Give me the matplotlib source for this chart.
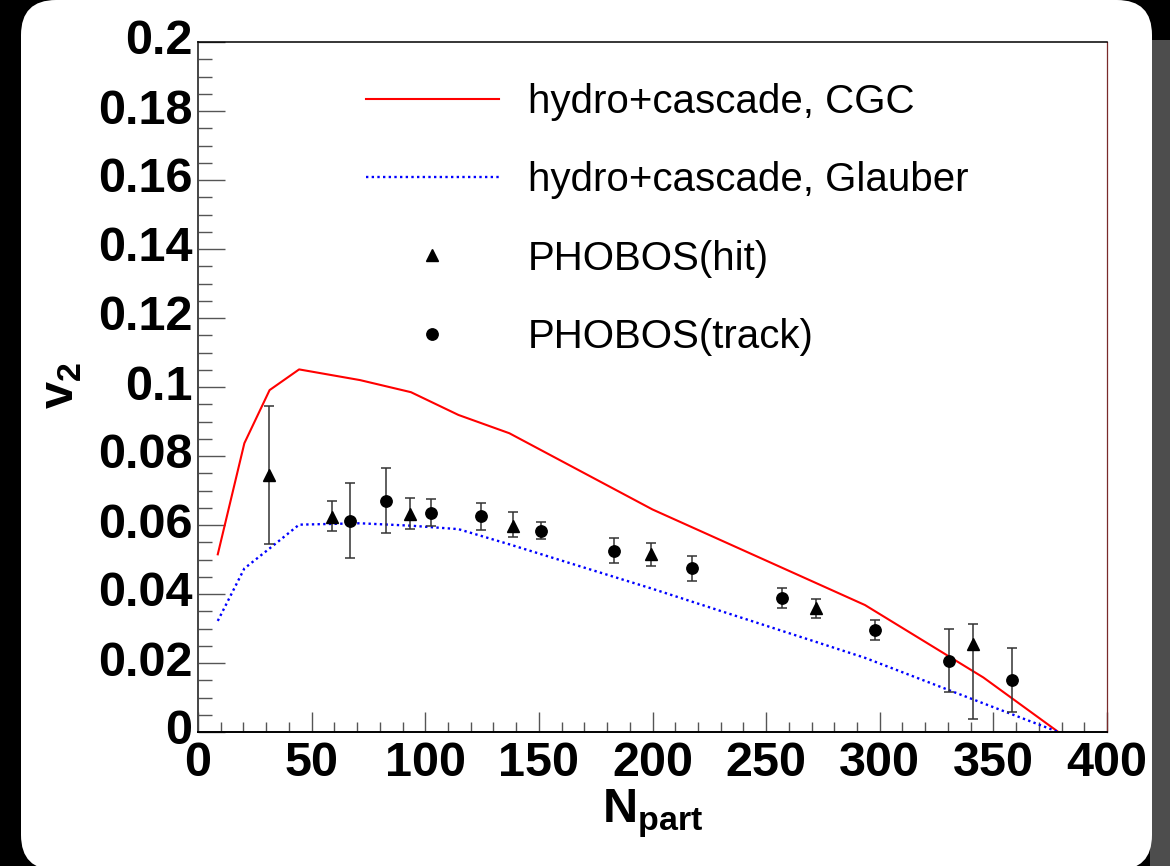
import numpy as np
import matplotlib
matplotlib.use("Agg")
import matplotlib.pyplot as plt
from matplotlib.patches import FancyBboxPatch, Rectangle
from matplotlib.ticker import MultipleLocator
from matplotlib.transforms import ScaledTranslation

plt.rcParams['font.family'] = ['Liberation Sans', 'DejaVu Sans']
plt.rcParams['mathtext.fontset'] = 'custom'
plt.rcParams['mathtext.rm'] = 'Liberation Sans'
plt.rcParams['mathtext.bf'] = 'Liberation Sans:bold'

# theory curves (hydro+cascade)
npart_theory = [8.7, 20.4, 31.5, 44.5, 71.3, 93.7, 114.6, 137.0, 200.0, 293.5, 345.6, 378.6]
v2_cgc = [0.0515, 0.0837, 0.0991, 0.1051, 0.1020, 0.0985, 0.0919, 0.0866, 0.0645, 0.0368, 0.0158, 0.0]
v2_glauber = [0.0322, 0.0474, 0.0532, 0.0601, 0.0605, 0.0598, 0.0588, 0.0544, 0.0415, 0.0215, 0.0083, 0.0]

# PHOBOS hit
npart_hit = [31.1, 59.1, 93.1, 138.8, 199.5, 271.9, 341.2]
v2_hit = [0.0745, 0.0624, 0.0632, 0.0598, 0.0515, 0.0358, 0.0255]
err_hit_lo = [0.0200, 0.0042, 0.0045, 0.0034, 0.0034, 0.0027, 0.0217]
err_hit_hi = [0.0200, 0.0046, 0.0047, 0.0040, 0.0034, 0.0028, 0.0058]

# PHOBOS track
npart_track = [66.7, 82.6, 102.7, 124.5, 151.1, 183.1, 217.4, 257.1, 297.9, 330.6, 358.3]
v2_track = [0.0613, 0.0671, 0.0636, 0.0625, 0.0584, 0.0526, 0.0474, 0.0389, 0.0296, 0.0207, 0.0151]
err_track = [0.0108, 0.0093, 0.0038, 0.0040, 0.0024, 0.0036, 0.0037, 0.0029, 0.0029, 0.0091, 0.0093]

ytick_labels = ['0', '0.02', '0.04', '0.06', '0.08', '0.1', '0.12', '0.14', '0.16', '0.18', '0.2']

fig = plt.figure(figsize=(11.7, 8.66), dpi=100)
fig.patch.set_facecolor('black')
# gray strip on the right + rounded white panel (behind the axes)
fig.patches.append(Rectangle((1150/1170, 0), 20/1170, 1 - 40/866, transform=fig.transFigure,
                             fc='#4d4d4d', ec='none', zorder=-10))
fig.patches.append(FancyBboxPatch((0.21, -0.04), 11.31, 8.70,
                                  boxstyle='round,pad=0,rounding_size=0.35',
                                  transform=fig.dpi_scale_trans, fc='white', ec='none', zorder=-9))

ax = fig.add_axes([198/1170, 1 - 732/866, 909/1170, 690/866])
ax.set_facecolor('white')

ax.plot(npart_theory, v2_cgc, color='#ff0000', lw=1.5, label='hydro+cascade, CGC')
ax.plot(npart_theory, v2_glauber, color='#0000ff', lw=1.7, ls=(0, (1.0, 1.4)),
        label='hydro+cascade, Glauber')

ax.errorbar(npart_hit, v2_hit, yerr=[err_hit_lo, err_hit_hi], fmt='none',
            ecolor='#333333', elinewidth=1.1, capsize=3.6, capthick=1.1)
ax.errorbar(npart_track, v2_track, yerr=err_track, fmt='none',
            ecolor='#333333', elinewidth=1.1, capsize=3.6, capthick=1.1)
ax.plot(npart_hit, v2_hit, ls='none', marker='^', ms=8, color='black', label='PHOBOS(hit)')
ax.plot(npart_track, v2_track, ls='none', marker='o', ms=8.2, color='black', label='PHOBOS(track)')

ax.set_xlim(0, 400)
ax.set_ylim(0, 0.2)
ax.xaxis.set_major_locator(MultipleLocator(50))
ax.xaxis.set_minor_locator(MultipleLocator(10))
ax.yaxis.set_minor_locator(MultipleLocator(0.005))
ax.set_yticks(np.arange(0, 0.201, 0.02))
ax.set_yticklabels(ytick_labels)

ax.tick_params(axis='both', which='both', direction='in', color='#555555', width=1,
               top=False, right=False)
ax.tick_params(axis='y', which='major', length=19.4, pad=4)
ax.tick_params(axis='y', which='minor', length=10)
ax.tick_params(axis='x', which='major', length=14.4, pad=6.5)
ax.tick_params(axis='x', which='minor', length=7.2)
for lab in ax.get_xticklabels() + ax.get_yticklabels():
    lab.set_fontsize(35)
    lab.set_fontweight('bold')
# ROOT puts the y labels a touch above the tick
up = ScaledTranslation(0, 5 / 100, fig.dpi_scale_trans)
for lab in ax.get_yticklabels():
    lab.set_transform(lab.get_transform() + up)

ax.spines['left'].set_color('#444444')
ax.spines['left'].set_linewidth(1.4)
ax.spines['bottom'].set_color('black')
ax.spines['bottom'].set_linewidth(1.4)
ax.spines['top'].set_color('black')
ax.spines['top'].set_linewidth(1.1)
ax.spines['right'].set_color('#7a2a2a')
ax.spines['right'].set_linewidth(0.9)

ax.set_xlabel(r'$\mathbf{N}_{\mathbf{part}}$', fontsize=35, va='top')
ax.xaxis.set_label_coords(0.5, -(788 - 732) / 690)
ax.set_ylabel(r'$\mathbf{v}_{\mathbf{2}}$', fontsize=35, va='center')
ax.yaxis.set_label_coords((61 - 198) / 909, (732 - 385) / 690)

leg = ax.legend(loc='upper left', bbox_to_anchor=((366 - 198) / 909, (732 - 83) / 690),
                frameon=False, fontsize=29, handlelength=3.3, handletextpad=0.72,
                labelspacing=1.0, borderpad=0, borderaxespad=0, markerscale=1.0)

fig.savefig('out.png', dpi=100, facecolor=fig.get_facecolor())
